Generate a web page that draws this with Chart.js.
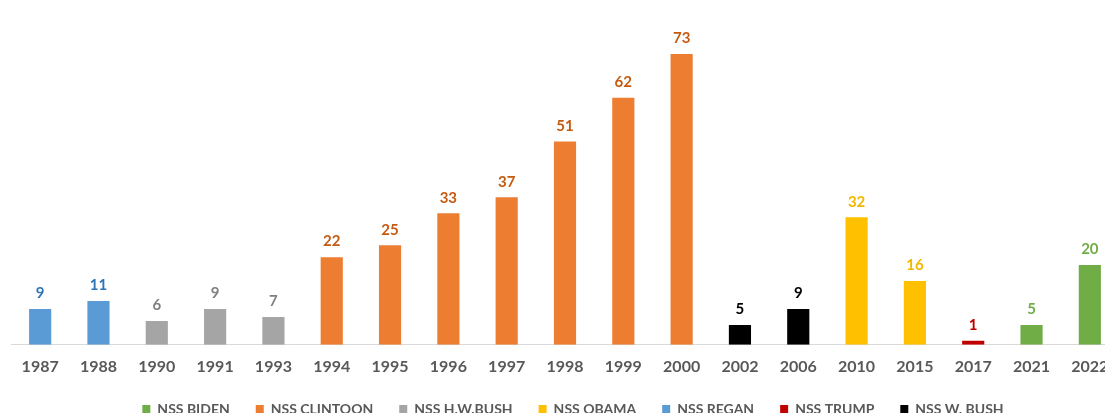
<!DOCTYPE html>
<html>
<head>
<meta charset="utf-8">
<script src="https://cdn.jsdelivr.net/npm/chart.js@4/dist/chart.umd.min.js"></script>
<style>
  html, body { margin: 0; padding: 0; background: #fff; overflow: hidden; }
  #wrap { position: relative; width: 1140px; height: 417px; }
</style>
</head>
<body>
<div id="wrap"><canvas id="chart"></canvas></div>
<script>
// años de cada estrategia (NSS)
const years = ['1987', '1988', '1990', '1991', '1993', '1994', '1995', '1996', '1997', '1998',
               '1999', '2000', '2002', '2006', '2010', '2015', '2017', '2021', '2022'];

// valores por administración (null = sin barra ese año)
const biden    = [null, null, null, null, null, null, null, null, null, null, null, null, null, null, null, null, null, 5, 20];
const clinton  = [null, null, null, null, null, 22, 25, 33, 37, 51, 62, 73, null, null, null, null, null, null, null];
const hwBush   = [null, null, 6, 9, 7, null, null, null, null, null, null, null, null, null, null, null, null, null, null];
const obama    = [null, null, null, null, null, null, null, null, null, null, null, null, null, null, 32, 16, null, null, null];
const reagan   = [9, 11, null, null, null, null, null, null, null, null, null, null, null, null, null, null, null, null, null];
const trump    = [null, null, null, null, null, null, null, null, null, null, null, null, null, null, null, null, 1, null, null];
const wBush    = [null, null, null, null, null, null, null, null, null, null, null, null, 5, 9, null, null, null, null, null];

const seriesNames = ['NSS BIDEN', 'NSS CLINTOON', 'NSS H.W.BUSH', 'NSS OBAMA', 'NSS REGAN', 'NSS TRUMP', 'NSS W. BUSH'];
const seriesData = [biden, clinton, hwBush, obama, reagan, trump, wBush];
const barColors = ['#70AD47', '#ED7D31', '#A5A5A5', '#FFC000', '#5B9BD5', '#C00000', '#000000'];
const labelColors = ['#70AD47', '#C55A11', '#7F7F7F', '#F2B800', '#2E75B6', '#C00000', '#000000'];

const FONT = 'Lato, "Open Sans", sans-serif';

// etiquetas de valor encima de cada barra
const valueLabels = {
    id: 'valueLabels',
    afterDatasetsDraw(chart) {
        const ctx = chart.ctx;
        ctx.save();
        ctx.font = `bold 15px ${FONT}`;
        ctx.textAlign = 'center';
        ctx.textBaseline = 'bottom';
        chart.data.datasets.forEach((ds, i) => {
            const meta = chart.getDatasetMeta(i);
            ctx.fillStyle = labelColors[i];
            meta.data.forEach((bar, j) => {
                if (ds.data[j] == null) return;
                ctx.fillText(ds.data[j], bar.x, bar.y - 8);
            });
        });
        ctx.restore();
    }
};

// acercar la leyenda al borde inferior y moverla un poco a la derecha
const legendShift = {
    id: 'legendShift',
    beforeInit(chart) {
        const origFit = chart.legend.fit;
        chart.legend.fit = function () {
            origFit.call(this);
            this.height -= 13;
        };
    },
    afterLayout(chart) {
        chart.legend.left += 8;
        chart.legend.right += 8;
    }
};

new Chart(document.getElementById('chart'), {
    type: 'bar',
    data: {
        labels: years,
        datasets: seriesNames.map((name, i) => ({
            label: name,
            data: seriesData[i],
            backgroundColor: barColors[i],
            grouped: false,
            barPercentage: 0.38,
            categoryPercentage: 1
        }))
    },
    options: {
        responsive: true,
        maintainAspectRatio: false,
        animation: false,
        layout: { padding: { top: 26, left: 11, right: 21, bottom: 4 } },
        plugins: {
            legend: {
                position: 'bottom',
                labels: {
                    boxWidth: 8,
                    boxHeight: 8,
                    padding: 26,
                    color: '#595959',
                    font: { family: FONT, size: 14, weight: 'bold' }
                }
            },
            tooltip: { enabled: false }
        },
        scales: {
            x: {
                grid: { display: false, drawTicks: false },
                border: { color: '#D9D9D9', width: 1 },
                ticks: {
                    color: '#595959',
                    padding: 12,
                    font: { family: FONT, size: 16, weight: 'bold' }
                },
                afterFit(scale) { scale.height -= 12; }
            },
            y: {
                display: false,
                min: 0,
                max: 80
            }
        }
    },
    plugins: [valueLabels, legendShift]
});
</script>
</body>
</html>
